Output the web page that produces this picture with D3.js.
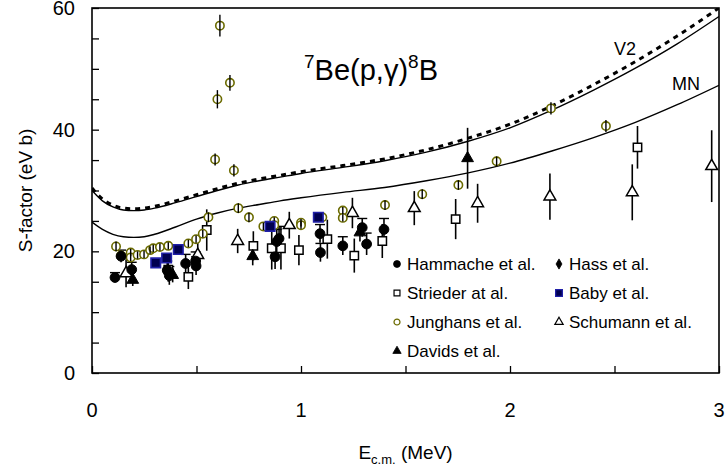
<!DOCTYPE html>
<html>
<head>
<meta charset="utf-8">
<script src="https://cdn.jsdelivr.net/npm/d3@7"></script>
<style>
  body { margin: 0; background: #fff; }
  text { font-family: "Liberation Sans", Arial, sans-serif; }
</style>
</head>
<body>
<div id="my_dataviz"></div>
<script>
// data: [E (MeV), S (eV b), error]
var hammache = [[0.11,15.7,0.8],[0.139,19.2,1.0],[0.19,17.0,1.2],[0.36,16.9,1.5],[0.37,16.0,1.5],
  [0.448,18.0,1.5],[0.496,18.4,1.5],[0.498,17.6,1.5],[0.876,19.1,2.0],[0.884,21.6,2.0],[0.895,22.1,2.0],
  [1.091,22.9,1.5],[1.093,19.8,1.5],[1.20,20.9,1.5],[1.293,23.9,1.5],[1.314,21.2,1.8],[1.397,23.6,1.8]];
var strieder = [[0.365,17.0,2.0],[0.461,15.8,2.0],[0.549,23.5,3.4],[0.772,20.9,2.4],[0.86,20.5,3.5],
  [0.904,20.5,3.5],[0.99,20.2,2.5],[1.126,22.0,3.2],[1.255,19.3,2.8],[1.389,21.7,2.8],[1.74,25.3,3.3],[2.61,37.1,3.5]];
var junghans = [[0.115,20.8,0.8],[0.139,19.3,0.6],[0.185,19.8,0.6],[0.185,19.0,0.6],[0.218,19.4,0.6],
  [0.249,19.5,0.6],[0.278,20.2,0.6],[0.293,20.5,0.6],[0.325,20.7,0.6],[0.365,20.9,0.6],[0.461,21.3,0.6],
  [0.498,22.0,0.6],[0.53,22.9,0.6],[0.557,25.6,0.8],[0.589,35.1,1.0],[0.60,45.0,1.5],[0.612,57.1,1.8],
  [0.66,47.7,1.3],[0.679,33.3,1.0],[0.70,27.1,0.8],[0.751,25.6,0.8],[0.82,24.1,0.6],[0.872,25.0,0.6],
  [0.872,24.3,0.6],[1.0,24.7,0.6],[1.0,24.3,0.6],[1.102,25.6,0.6],[1.2,26.7,0.6],[1.2,25.5,0.6],
  [1.402,27.6,0.8],[1.58,29.4,0.8],[1.753,30.9,0.8],[1.936,34.8,0.8],[2.196,43.5,1.0],[2.459,40.6,1.0]];
var baby = [[0.305,18.1,0.8],[0.357,18.9,0.8],[0.413,20.3,0.8],[0.852,24.1,0.8],[1.083,25.6,0.8]];
var hass = [];
var schumann = [[0.163,16.4,2.3],[0.506,19.4,2.0],[0.697,21.7,2.0],[0.944,24.3,2.2],[1.246,26.3,2.5],
  [1.542,27.1,2.8],[1.845,27.9,3.2],[2.191,29.0,3.8],[2.585,29.7,4.6],[2.965,34.0,5.9]];
var davids = [[0.195,15.3,1.0],[0.386,16.1,1.2],[0.769,19.2,1.5],[1.282,23.1,1.5],[1.797,35.3,5.0]];

// theory curves
var curveE = [0,0.05,0.1,0.15,0.2,0.25,0.3,0.4,0.5,0.6,0.7,0.8,0.9,1.0,1.2,1.4,1.6,1.8,2.0,2.2,2.4,2.6,2.8,3.0];
var v2Solid = [30.0,28.3,27.3,26.8,26.7,26.8,27.1,28.0,29.0,30.0,30.9,31.6,32.2,32.8,33.8,34.9,36.3,38.1,40.3,43.2,46.5,50.1,54.1,58.6];
var v2Dash  = [30.4,28.6,27.6,27.1,27.0,27.1,27.4,28.3,29.3,30.3,31.2,31.9,32.5,33.1,34.1,35.2,36.7,38.6,40.9,43.9,47.4,51.2,55.4,60.0];
var mn      = [24.8,23.6,22.8,22.4,22.3,22.4,22.8,24.0,25.3,26.3,27.1,27.7,28.3,28.8,29.7,30.5,31.6,32.9,34.5,36.5,38.7,41.2,44.1,47.3];

var xTicks = [0,1,2,3];
var yTicks = [0,20,40,60];

// set the dimensions and margins of the graph
var margin = {top: 8, right: 8, bottom: 100, left: 92},
width = 727 - margin.left - margin.right,
height = 473 - margin.top - margin.bottom;

var svg = d3.select("#my_dataviz")
.append("svg")
.attr("width", 727)
.attr("height", 473)
.append("g")
.attr("transform", "translate(" + margin.left + "," + margin.top + ")");

var x = d3.scaleLinear().domain([0, 3]).range([0, width]);
var y = d3.scaleLinear().domain([0, 60]).range([height, 0]);

// inward ticks
svg.append("g")
.attr("transform", "translate(0," + height + ")")
.call(d3.axisBottom(x).tickValues(d3.range(0, 3.01, 0.5)).tickSizeInner(-7).tickSizeOuter(0).tickFormat(""))
.call(function(g) { g.select(".domain").remove(); g.selectAll("line").attr("stroke-width", 1.3); });
svg.append("g")
.call(d3.axisLeft(y).tickValues(d3.range(0, 60.1, 5)).tickSizeInner(-7).tickSizeOuter(0).tickFormat(""))
.call(function(g) { g.select(".domain").remove(); g.selectAll("line").attr("stroke-width", 1.3); });

// tick labels
svg.selectAll(".xlab").data(xTicks).enter().append("text")
.attr("x", function(d) { return x(d); })
.attr("y", height + 44)
.attr("text-anchor", "middle")
.attr("font-size", 20)
.text(function(d) { return d; });
svg.selectAll(".ylab").data(yTicks).enter().append("text")
.attr("x", -17)
.attr("y", function(d) { return y(d) + 7; })
.attr("text-anchor", "end")
.attr("font-size", 20)
.text(function(d) { return d; });

// clip
svg.append("clipPath").attr("id", "clip").append("rect").attr("width", width).attr("height", height);
var plot = svg.append("g").attr("clip-path", "url(#clip)");

// curves
var line = d3.line()
.x(function(d) { return x(d[0]); })
.y(function(d) { return y(d[1]); })
.curve(d3.curveMonotoneX);
function pairs(vals) { return curveE.map(function(e, i) { return [e, vals[i]]; }); }
plot.append("path").datum(pairs(v2Dash)).attr("d", line)
.attr("fill", "none").attr("stroke", "#000").attr("stroke-width", 3).attr("stroke-dasharray", "5,5");
plot.append("path").datum(pairs(v2Solid)).attr("d", line)
.attr("fill", "none").attr("stroke", "#000").attr("stroke-width", 1.4);
plot.append("path").datum(pairs(mn)).attr("d", line)
.attr("fill", "none").attr("stroke", "#000").attr("stroke-width", 1.4);

// error bars
function errors(data, cap) {
  plot.selectAll(null).data(data).enter().append("line")
  .attr("x1", function(d) { return x(d[0]); })
  .attr("x2", function(d) { return x(d[0]); })
  .attr("y1", function(d) { return y(d[1] - d[2]); })
  .attr("y2", function(d) { return y(d[1] + d[2]); })
  .attr("stroke", "#000").attr("stroke-width", 1.6);
  if (cap) {
    plot.selectAll(null).data(data).enter().append("line")
    .attr("x1", function(d) { return x(d[0]) - 5; })
    .attr("x2", function(d) { return x(d[0]) + 5; })
    .attr("y1", function(d) { return y(d[1] + d[2]); })
    .attr("y2", function(d) { return y(d[1] + d[2]); })
    .attr("stroke", "#000").attr("stroke-width", 1.4);
  }
}
errors(strieder);
errors(schumann);
errors(davids);
errors(hammache, true);

// marker styles
var olive = "#6b6b00";
var styles = {
  hammache: {sym: d3.symbolCircle, size: 75, fill: "#000", stroke: "#000", sw: 1},
  strieder: {sym: d3.symbolSquare, size: 70, fill: "#fff", stroke: "#000", sw: 1.5},
  junghans: {sym: d3.symbolCircle, size: 55, fill: "#fff", stroke: olive, sw: 1.6},
  baby:     {sym: d3.symbolSquare, size: 90, fill: "#000050", stroke: "#2020a8", sw: 1.6},
  hass:     {sym: d3.symbolDiamond, size: 60, fill: "#000", stroke: "#000", sw: 1},
  schumann: {sym: d3.symbolTriangle, size: 60, fill: "#fff", stroke: "#000", sw: 1.5},
  davids:   {sym: d3.symbolTriangle, size: 60, fill: "#000", stroke: "#000", sw: 1}
};
function markers(data, st) {
  plot.selectAll(null).data(data).enter().append("path")
  .attr("transform", function(d) { return "translate(" + x(d[0]) + "," + y(d[1]) + ")"; })
  .attr("d", d3.symbol().type(st.sym).size(st.size))
  .attr("fill", st.fill).attr("stroke", st.stroke).attr("stroke-width", st.sw);
}
markers(strieder, styles.strieder);
markers(schumann, styles.schumann);
markers(junghans, styles.junghans);
// Junghans error bars drawn through the circles
plot.selectAll(null).data(junghans).enter().append("line")
.attr("x1", function(d) { return x(d[0]); })
.attr("x2", function(d) { return x(d[0]); })
.attr("y1", function(d) { return y(d[1] - d[2]); })
.attr("y2", function(d) { return y(d[1] + d[2]); })
.attr("stroke", "#000").attr("stroke-width", 1.4);
markers(baby, styles.baby);
markers(davids, styles.davids);
markers(hammache, styles.hammache);
markers(hass, styles.hass);

// frame
svg.append("rect").attr("width", width).attr("height", height)
.attr("fill", "none").attr("stroke", "#000").attr("stroke-width", 1.6);

// legend
var legendNames = ["Hammache et al.", "Hass et al.", "Strieder at al.", "Baby et al.", "Junghans et al.", "Schumann et al.", "Davids et al."];
var legendKeys = ["hammache", "hass", "strieder", "baby", "junghans", "schumann", "davids"];
var leg = svg.selectAll(".leg").data(legendKeys).enter().append("g")
.attr("transform", function(d, i) {
  var col = i % 2, row = Math.floor(i / 2);
  return "translate(" + (col == 0 ? 305 : 467) + "," + (256 + row * 29) + ")";
});
leg.append("path")
.attr("d", function(d) { return d3.symbol().type(styles[d].sym).size(styles[d].size * 0.5)(); })
.attr("fill", function(d) { return styles[d].fill; })
.attr("stroke", function(d) { return styles[d].stroke; })
.attr("stroke-width", function(d) { return styles[d].sw * 0.8; });
leg.append("text")
.attr("x", 10).attr("y", 6)
.attr("font-size", 17)
.text(function(d, i) { return legendNames[i]; });

// reaction label
var t = svg.append("text").attr("x", 212).attr("y", 72).attr("font-size", 29);
t.append("tspan").attr("font-size", 19).attr("dy", -12).text("7");
t.append("tspan").attr("dy", 12).text("Be(p,γ)");
t.append("tspan").attr("font-size", 19).attr("dy", -12).text("8");
t.append("tspan").attr("dy", 12).text("B");

// curve labels
svg.append("text").attr("x", 522).attr("y", 47).attr("font-size", 18).text("V2");
svg.append("text").attr("x", 580).attr("y", 82).attr("font-size", 18).text("MN");

// axis titles
var xt = svg.append("text").attr("x", width / 2).attr("y", height + 86)
.attr("text-anchor", "middle").attr("font-size", 19);
xt.append("tspan").text("E");
xt.append("tspan").attr("font-size", 13).attr("dy", 5).text("c.m.");
xt.append("tspan").attr("dy", -5).text(" (MeV)");

svg.append("text")
.attr("transform", "translate(-60," + (height / 2) + ") rotate(-90)")
.attr("text-anchor", "middle").attr("font-size", 19)
.text("S-factor (eV b)");
</script>
</body>
</html>
